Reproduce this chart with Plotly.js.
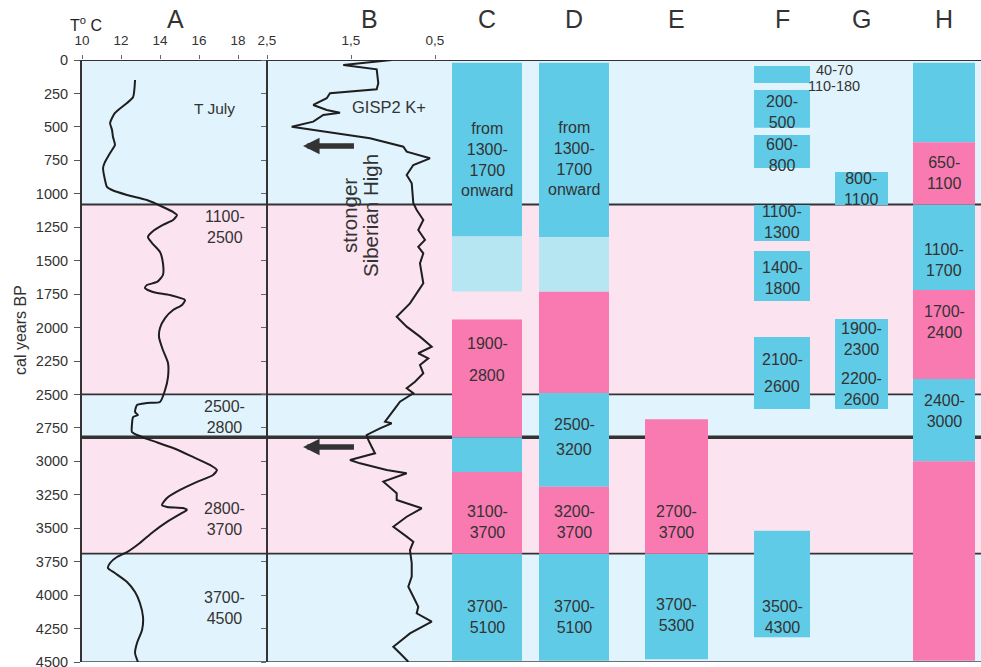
<!DOCTYPE html>
<html><head><meta charset="utf-8">
<script src="https://cdn.plot.ly/plotly-3.0.1.min.js"></script>
<style>html,body{margin:0;padding:0;background:#fff}</style>
</head><body><div id="chart" style="width:981px;height:667px"></div>
<script>
// ---- Column A: July temperature (°C) vs cal years BP
const yearsA = [150,277,321,396,471,523,576,635,695,762,807,897,949,972,1009,1047,1099,1136,1159,1196,1233,1286,1323,1368,1435,1517,1607,1659,1682,1704,1734,1757,1794,1831,1869,1929,2003,2071,2168,2265,2370,2467,2556,2564,2579,2631,2654,2669,2728,2781,2803,2840,2900,2967,3027,3065,3102,3154,3214,3274,3326,3341,3349,3364,3386,3453,3528,3610,3678,3715,3760,3797,3835,3902,3977,4059,4164,4261,4358,4433,4500];
const tempA = [12.72,12.62,12.31,11.69,11.44,11.54,11.59,11.69,11.44,11.18,11.08,11.18,11.28,11.54,12.31,13.33,14.15,14.67,14.87,14.67,14.15,13.59,13.38,13.59,14.0,14.15,14.15,13.85,13.33,13.23,13.64,14.51,15.28,15.13,14.67,14.26,14.0,13.95,14.15,14.41,14.41,14.26,14.0,13.33,12.82,12.72,12.87,12.62,12.56,12.56,12.82,13.49,14.67,15.69,16.56,16.92,16.72,15.9,15.03,14.36,14.1,14.36,15.18,15.38,15.13,14.36,13.64,12.97,12.31,11.79,11.44,11.33,11.69,12.31,12.72,12.97,13.13,13.08,12.82,12.72,12.87];

// ---- Column B: GISP2 K+
const yearsB = [0,37,70,174,219,249,286,336,374,394,411,461,499,536,585,648,685,735,785,860,922,1071,1121,1196,1271,1345,1396,1445,1520,1669,1819,1919,1993,2068,2143,2192,2230,2280,2342,2405,2454,2491,2554,2604,2666,2704,2716,2753,2803,2840,2891,2940,2990,3015,3065,3089,3152,3239,3289,3351,3414,3489,3563,3601,3663,3762,3862,3937,4012,4087,4136,4199,4286,4386,4435,4498];
const kB = [1.016,1.592,1.194,1.175,1.194,1.75,1.789,1.949,1.789,1.631,1.830,1.949,2.206,1.789,1.274,0.877,0.837,0.560,0.758,0.837,0.777,0.758,0.718,0.639,0.699,0.619,0.699,0.639,0.679,0.639,0.798,0.956,0.837,0.679,0.539,0.699,0.580,0.679,0.639,0.738,0.837,0.758,0.917,0.976,1.056,1.095,1.016,1.155,1.313,1.294,1.254,1.214,1.512,1.393,1.075,0.837,1.115,0.956,0.956,0.658,0.837,0.996,0.837,0.758,0.798,0.777,0.777,0.818,0.758,0.699,0.718,0.539,0.798,0.996,0.917,0.818];

// ---- Background periods
const bandStart = [0,1080,2500,2820,3690];
const bandEnd   = [1080,2500,2820,3690,4500];
const bandType  = ['cold','warm','cold','warm','cold'];
const bandLabels = ['T July','1100-<br>2500','2500-<br>2800','2800-<br>3700','3700-<br>4500'];

// ---- Columns C-H: interval segments
const segCol   = ['C','C','C','C','C','C', 'D','D','D','D','D','D', 'E','E', 'F','F','F','F','F','F','F', 'G','G', 'H','H','H','H','H','H'];
const segStart = [20,1320,1940,2820,3080,3690, 20,1325,1730,2490,3190,3690, 2685,3690, 45,224,561,1084,1428,2071,3518, 837,1936, 20,615,1080,1720,2385,3000];
const segEnd   = [1320,1730,2820,3080,3690,4490, 1325,1730,2490,3190,3690,4490, 3690,4480, 172,506,808,1353,1801,2609,4315, 1084,2609, 615,1080,1720,2385,3000,4490];
const segType  = ['cold','trans','warm','cold','warm','cold', 'cold','trans','warm','cold','warm','cold', 'warm','cold', 'cold','cold','cold','cold','cold','cold','cold', 'cold','cold', 'cold','warm','cold','warm','cold','warm'];
const columns  = ['C','D','E','F','G','H'];

// ---- styles / layout constants
const FONT = 'Liberation Sans, Arial, sans-serif';
const TXT = '#333';
const barColor = {cold:'#5fcbe7', warm:'#f979b1', trans:'#b7e6f3'};
const bgColor = {cold:'#e1f3fc', warm:'#fce3f0'};
const colCenter = {C:487, D:574, E:676.5, F:782, G:861.5, H:944};
const colWidth  = {C:70, D:70, E:63, F:56, G:53, H:62};
const X0 = 82, X1 = 981, PW = X1 - X0;
const xA_end = (267 - X0) / PW;
const xB_end = (453 - X0) / PW;

const traces = [];
// bars
['cold','warm','trans'].forEach(t => {
  const idx = segType.map((v,i)=>v===t?i:-1).filter(i=>i>=0);
  traces.push({
    type:'bar', xaxis:'x3', yaxis:'y',
    x: idx.map(i=>colCenter[segCol[i]]),
    y: idx.map(i=>segEnd[i]-segStart[i]),
    base: idx.map(i=>segStart[i]),
    width: idx.map(i=>colWidth[segCol[i]]),
    marker:{color:barColor[t], line:{width:0}},
    hoverinfo:'skip'
  });
});
traces.push({type:'scatter', mode:'lines', xaxis:'x', yaxis:'y', x:tempA, y:yearsA,
  line:{color:'#1e1e1e', width:2, shape:'spline', smoothing:0.6}, hoverinfo:'skip'});
traces.push({type:'scatter', mode:'lines', xaxis:'x2', yaxis:'y', x:kB, y:yearsB,
  line:{color:'#1e1e1e', width:2}, hoverinfo:'skip'});
traces.push({type:'scatter', mode:'lines', xaxis:'x', yaxis:'y2', x:[null], y:[null], hoverinfo:'skip'});

const shapes = [];
bandStart.forEach((s,i)=>shapes.push({type:'rect', xref:'paper', yref:'y', x0:0, x1:1, y0:s, y1:bandEnd[i],
  fillcolor:bgColor[bandType[i]], line:{width:0}, layer:'below'}));
bandStart.slice(1).forEach(s=>shapes.push({type:'line', xref:'paper', yref:'y', x0:0, x1:1, y0:s, y1:s,
  line:{color:'#333', width: s===2820 ? 3.5 : 1.8}, layer:'below'}));
shapes.push({type:'line', xref:'paper', yref:'y', x0:0, x1:1, y0:0, y1:0, line:{color:'#333', width:2}, layer:'below'});
shapes.push({type:'line', xref:'paper', yref:'y', x0:0, x1:1, y0:4500, y1:4500, line:{color:'#444', width:1.5}, layer:'below'});

const ann = [];
function lab(xref, x, y, text, size, extra){
  ann.push(Object.assign({xref:xref, yref:'y', x:x, y:y, text:text, showarrow:false,
    font:{family:FONT, size:size||16, color:TXT}, xanchor:'center', yanchor:'middle'}, extra||{}));
}
// column A band labels
lab('x', 16.82, 366, bandLabels[0], 15.5);
lab('x', 17.33, 1252, bandLabels[1]);
lab('x', 17.33, 2672, bandLabels[2]);
lab('x', 17.33, 3431, bandLabels[3]);
lab('x', 17.33, 4096, bandLabels[4]);
// column B
lab('x2', 1.048, 351, 'GISP2 K+', 16.5);
lab('x2', 1.524, 1159, 'stronger', 20.5, {textangle:-90});
lab('x2', 1.274, 1159, 'Siberian High', 20.5, {textangle:-90});
// bar labels
const onward = 'from<br>1300-<br>1700<br>onward';
lab('x3', colCenter.C, 747, onward);
lab('x3', colCenter.D, 736, onward);
lab('x3', colCenter.C, 2116, '1900-');
lab('x3', colCenter.C, 2355, '2800');
lab('x3', colCenter.C, 3457, '3100-<br>3700');
lab('x3', colCenter.C, 4160, '3700-<br>5100');
lab('x3', colCenter.D, 2721, '2500-');
lab('x3', colCenter.D, 2908, '3200');
lab('x3', colCenter.D, 3457, '3200-<br>3700');
lab('x3', colCenter.D, 4160, '3700-<br>5100');
lab('x3', colCenter.E, 3457, '2700-<br>3700');
lab('x3', colCenter.E, 4150, '3700-<br>5300');
lab('x3', colCenter.F, 385, '200-<br>500');
lab('x3', colCenter.F, 710, '600-<br>800');
lab('x3', colCenter.F, 1211, '1100-<br>1300');
lab('x3', colCenter.F, 1630, '1400-<br>1800');
lab('x3', colCenter.F, 2236, '2100-');
lab('x3', colCenter.F, 2437, '2600');
lab('x3', colCenter.F, 4160, '3500-<br>4300');
lab('x3', 834, 75, '40-70', 14.5);
lab('x3', 834, 194, '110-180', 14.5);
lab('x3', colCenter.G, 964, '800-<br>1100');
lab('x3', colCenter.G, 2089, '1900-<br>2300');
lab('x3', colCenter.G, 2459, '2200-<br>2600');
lab('x3', colCenter.H, 845, '650-<br>1100');
lab('x3', colCenter.H, 1495, '1100-<br>1700');
lab('x3', colCenter.H, 1962, '1700-<br>2400');
lab('x3', colCenter.H, 2627, '2400-<br>3000');
// arrows ("stronger Siberian High")
[643, 2893].forEach(yy=>ann.push({xref:'x2', yref:'y', axref:'x2', ayref:'y', x:2.071, y:yy, ax:1.429, ay:yy,
  showarrow:true, arrowhead:2, arrowsize:0.6, arrowwidth:5.5, arrowcolor:'#333', text:' '}));
// column letters
const topY = (662 - 19) / 602;
ann.push({xref:'x', yref:'paper', x:14.82, y:topY, text:'A', showarrow:false, font:{family:FONT,size:25,color:TXT}, yanchor:'middle'});
ann.push({xref:'x2', yref:'paper', x:1.274, y:topY, text:'B', showarrow:false, font:{family:FONT,size:25,color:TXT}, yanchor:'middle'});
columns.forEach(c=>ann.push({xref:'x3', yref:'paper', x:colCenter[c], y:topY, text:c, showarrow:false, font:{family:FONT,size:25,color:TXT}, yanchor:'middle'}));
ann.push({xref:'x3', yref:'paper', x:86, y:(662-24)/602, text:'T<sup>o</sup> C', showarrow:false, font:{family:FONT,size:16,color:'#222'}, yanchor:'middle'});
ann.push({xref:'paper', yref:'paper', x:(20-X0)/PW, y:(662-330)/602, text:'cal years BP', textangle:-90, showarrow:false, font:{family:FONT,size:16,color:TXT}, xanchor:'center', yanchor:'middle'});

const yTicks = []; for (let v=0; v<=4500; v+=250) yTicks.push(v);
const topAxis = {side:'top', anchor:'y', ticks:'outside', ticklen:4, tickcolor:'#666', showline:false, showgrid:false, zeroline:false,
  tickfont:{family:FONT, size:13.5, color:TXT}, ticklabelstandoff:5, fixedrange:true};

const layout = {
  width:981, height:667, margin:{l:82, r:0, t:60, b:5},
  paper_bgcolor:'#fff', plot_bgcolor:'rgba(0,0,0,0)', showlegend:false, barmode:'overlay', hovermode:false,
  font:{family:FONT, color:TXT},
  xaxis: Object.assign({}, topAxis, {domain:[0, xA_end], range:[10, 10 + (267-X0)/19.5], tickvals:[10,12,14,16,18]}),
  xaxis2: Object.assign({}, topAxis, {domain:[xA_end, xB_end], range:[2.5, 2.5 - (453-267)/84], tickvals:[2.5,1.5,0.5], ticktext:['2,5','1,5','0,5']}),
  xaxis3: {domain:[0,1], range:[X0, X1], anchor:'y', visible:false, fixedrange:true},
  yaxis: {domain:[0,1], range:[4500,0], tickvals:yTicks, ticks:'outside', ticklen:6, tickcolor:'#555',
    showline:true, linecolor:'#333', linewidth:2, showgrid:false, zeroline:false, ticklabeloverflow:'allow',
    tickfont:{family:FONT, size:14.5, color:TXT}, ticklabelstandoff:3, fixedrange:true},
  yaxis2: {overlaying:'y', anchor:'free', position:xA_end, range:[4500,0], tickvals:yTicks, ticks:'outside', ticklen:5, tickcolor:'#666',
    showticklabels:false, showline:true, linecolor:'#333', linewidth:2, showgrid:false, zeroline:false, fixedrange:true},
  shapes: shapes,
  annotations: ann
};
Plotly.newPlot('chart', traces, layout, {staticPlot:true, displayModeBar:false});
</script></body></html>
